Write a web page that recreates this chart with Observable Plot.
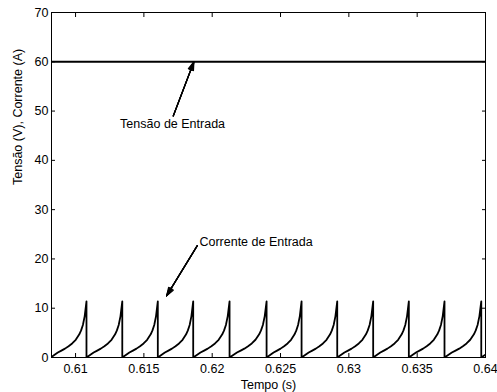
<!DOCTYPE html>
<html><head><meta charset="utf-8">
<script src="https://cdn.jsdelivr.net/npm/d3@7"></script>
<script src="https://cdn.jsdelivr.net/npm/@observablehq/plot@0.6"></script>
<style>
body{margin:0;background:#fff}
svg{font-family:"Liberation Sans",Arial,Helvetica,sans-serif}
</style>
</head><body><div id="chart"></div>
<script>
// ---- data ----
const xTicks = [0.61, 0.615, 0.62, 0.625, 0.63, 0.635, 0.64];
const xTickLabels = ["0.61", "0.615", "0.62", "0.625", "0.63", "0.635", "0.64"];
const yTicks = [0, 10, 20, 30, 40, 50, 60, 70];
const xDomain = [0.60824, 0.64];
const yDomain = [0, 70];
const xTitle = "Tempo (s)";
const yTitle = "Tensão (V), Corrente (A)";
const inputVoltage = [60];
// times where the input current drops back to zero
const dropTimes = [0.61080, 0.61342, 0.61602, 0.61861, 0.62127, 0.62398,
                   0.62654, 0.62915, 0.63178, 0.63439, 0.63700, 0.63969];
// shape of one current ramp (fraction of the cycle -> current in A)
const cycleFrac    = [0, 0.1, 0.2, 0.3, 0.4, 0.5, 0.6, 0.7, 0.8, 0.85, 0.9, 0.95, 1.0];
const cycleCurrent = [0, 0.5, 1.0, 1.4, 1.8, 2.3, 2.85, 3.6, 4.7, 5.5, 6.6, 8.4, 11.4];
const annLabels = ["Tensão de Entrada", "Corrente de Entrada"];
const annTextX = [0.61710, 0.62321];
const annTextY = [47.4, 23.5];
const annTailX = [0.61715, 0.61891];
const annTailY = [49.0, 22.7];
const annTipX  = [0.61866, 0.61666];
const annTipY  = [60, 12.5];

// ---- build the current waveform from the read ramps ----
const current = [];
const starts = [dropTimes[0] - (dropTimes[1] - dropTimes[0]), ...dropTimes];
const ends = [...dropTimes, dropTimes[dropTimes.length - 1] + (dropTimes[dropTimes.length - 1] - dropTimes[dropTimes.length - 2])];
for (let i = 0; i < starts.length; i++) {
  const t0 = starts[i], t1 = ends[i];
  cycleFrac.forEach((f, j) => current.push({t: t0 + f * (t1 - t0), i: cycleCurrent[j]}));
}
const ann = annLabels.map((s, k) => ({s, tx: annTextX[k], ty: annTextY[k], x1: annTailX[k], y1: annTailY[k], x2: annTipX[k], y2: annTipY[k]}));

const fs = 12.5;
const chart = Plot.plot({
  width: 497, height: 392,
  marginLeft: 51, marginRight: 12, marginTop: 12, marginBottom: 35,
  style: {fontSize: fs + "px", fontFamily: '"Liberation Sans", Arial, sans-serif', color: "black", background: "white", overflow: "visible"},
  x: {domain: xDomain},
  y: {domain: yDomain},
  marks: [
    Plot.ruleY(inputVoltage, {stroke: "black", strokeWidth: 2}),
    Plot.line(current, {x: "t", y: "i", stroke: "black", strokeWidth: 1.8, clip: true}),
    Plot.frame({stroke: "black", strokeWidth: 1}),
    Plot.axisX({anchor: "bottom", ticks: xTicks, tickFormat: (d, k) => xTickLabels[k], tickSize: -4, tickPadding: 11, label: null, fontSize: fs}),
    Plot.axisX({anchor: "top", ticks: xTicks, tickFormat: () => "", tickSize: -4, label: null}),
    Plot.axisY({anchor: "left", ticks: yTicks, tickSize: -4, tickPadding: 7, label: null, fontSize: fs}),
    Plot.axisY({anchor: "right", ticks: yTicks, tickFormat: () => "", tickSize: -4, label: null}),
    Plot.text([xTitle], {frameAnchor: "bottom", dy: 31, text: d => d, fill: "black", fontSize: fs}),
    Plot.text([yTitle], {frameAnchor: "left", dx: -34, rotate: -90, text: d => d, fill: "black", fontSize: fs}),
    ...[36, 26, 16, 8].map(a => Plot.arrow(ann, {x1: "x1", y1: "y1", x2: "x2", y2: "y2", headLength: 11, headAngle: a, stroke: "black", strokeWidth: 1.2, insetStart: 0, insetEnd: 0})),
    Plot.text(ann, {x: "tx", y: "ty", text: "s", fill: "black", fontSize: fs})
  ]
});
document.getElementById("chart").appendChild(chart);
</script>
</body></html>
